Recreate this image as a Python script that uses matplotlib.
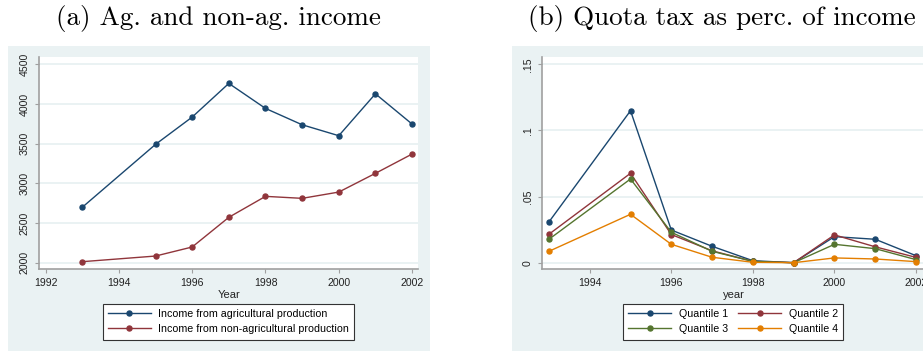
import numpy as np
import matplotlib
matplotlib.use('Agg')
import matplotlib.pyplot as plt
from matplotlib.patches import Rectangle

# Average income by source (panel a)
years_a = [1993, 1995, 1996, 1997, 1998, 1999, 2000, 2001, 2002]
ag_income = [2698, 3491, 3835, 4259, 3944, 3738, 3600, 4128, 3747]
nonag_income = [2013, 2084, 2198, 2572, 2836, 2811, 2890, 3126, 3369]

# Quota tax as a share of income by quantile (panel b)
years_b = [1993, 1995, 1996, 1997, 1998, 1999, 2000, 2001, 2002]
q1 = [0.0308, 0.1149, 0.0247, 0.0124, 0.0015, 0.0000, 0.0197, 0.0177, 0.0053]
q2 = [0.0215, 0.0676, 0.0213, 0.0090, 0.0010, 0.0000, 0.0210, 0.0120, 0.0040]
q3 = [0.0177, 0.0633, 0.0230, 0.0086, 0.0010, 0.0000, 0.0139, 0.0106, 0.0023]
q4 = [0.0086, 0.0366, 0.0139, 0.0041, 0.0003, 0.0000, 0.0036, 0.0028, 0.0008]

ticks_a_x = [1992, 1994, 1996, 1998, 2000, 2002]
ticks_a_y = [2000, 2500, 3000, 3500, 4000, 4500]
ticks_b_x = [1994, 1996, 1998, 2000, 2002]
ticks_b_y = [0, 0.05, 0.10, 0.15]
ticks_b_ylab = ['0', '.05', '.1', '.15']

# stata s2color palette
navy = '#1a476f'
maroon = '#90353b'
green = '#55752f'
orange = '#e37e00'
bg = '#eaf2f3'

W, H = 923, 351
fig = plt.figure(figsize=(W / 100, H / 100), dpi=100)
plt.rcParams['font.family'] = 'Liberation Sans'


def px(x0, y0, x1, y1):
    # pixel box -> figure fraction [left, bottom, width, height]
    return [x0 / W, 1 - y1 / H, (x1 - x0) / W, (y1 - y0) / H]


# graph regions behind the plot areas
for x0, x1 in [(8, 430), (512, 940)]:
    b = px(x0, 46, x1, 351)
    fig.patches.append(Rectangle((b[0], b[1]), b[2], b[3], transform=fig.transFigure,
                                 facecolor=bg, edgecolor='none', zorder=-5))


def style(ax):
    ax.set_facecolor('white')
    for s in ['top', 'right']:
        ax.spines[s].set_visible(False)
    for s in ['left', 'bottom']:
        ax.spines[s].set_color('#a0a0a0')
        ax.spines[s].set_linewidth(1.2)
    ax.tick_params(axis='both', direction='out', length=3, width=0.8, color='#a0a0a0',
                   labelsize=7.6, labelcolor='#222222', pad=3.5)
    ax.grid(axis='y', color=bg, linewidth=1.4)
    ax.set_axisbelow(True)
    for lab in ax.get_yticklabels():
        lab.set_rotation(90)
        lab.set_va('center')


def box(leg):
    leg.get_frame().set_edgecolor('#333333')
    leg.get_frame().set_linewidth(0.8)


mk = dict(marker='o', markersize=3.6, linewidth=1.0)
legkw = dict(loc='upper center', bbox_transform=fig.transFigure, fontsize=7.7,
             handlelength=4.0, handletextpad=0.7, labelspacing=0.5, borderpad=0.5,
             borderaxespad=0, fancybox=False, framealpha=1)

# panel a
ax1 = fig.add_axes(px(39, 57.3, 418.3, 269.3))
ax1.plot(years_a, ag_income, color=navy, label='Income from agricultural production', **mk)
ax1.plot(years_a, nonag_income, color=maroon, label='Income from non-agricultural production', **mk)
ax1.set_xlim(1991.82, 2002.17)
ax1.set_ylim(1917, 4588)
ax1.set_xticks(ticks_a_x)
ax1.set_yticks(ticks_a_y)
ax1.set_xlabel('Year', fontsize=8, labelpad=1, color='#222222')
style(ax1)
box(ax1.legend(bbox_to_anchor=(228.5 / W, 1 - 303.5 / H), ncol=1, **legkw))

# panel b
ax2 = fig.add_axes(px(542, 57.3, 925, 269.3))
l1, = ax2.plot(years_b, q1, color=navy, label='Quantile 1', **mk)
l2, = ax2.plot(years_b, q2, color=maroon, label='Quantile 2', **mk)
l3, = ax2.plot(years_b, q3, color=green, label='Quantile 3', **mk)
l4, = ax2.plot(years_b, q4, color=orange, label='Quantile 4', **mk)
ax2.set_xlim(1992.83, 2002.22)
ax2.set_ylim(-0.005, 0.1553)
ax2.set_xticks(ticks_b_x)
ax2.set_yticks(ticks_b_y)
ax2.set_yticklabels(ticks_b_ylab)
ax2.set_xlabel('year', fontsize=8, labelpad=1, color='#222222')
style(ax2)
# legend filled row by row: 1 2 / 3 4
box(ax2.legend([l1, l3, l2, l4], ['Quantile 1', 'Quantile 3', 'Quantile 2', 'Quantile 4'],
               bbox_to_anchor=(733 / W, 1 - 303.5 / H), ncol=2, columnspacing=1.0, **legkw))

# subfigure captions
fig.text(218.5 / W, 1 - 19 / H, '(a) Ag. and non-ag. income', family='cmr10',
         fontsize=19.5, ha='center', va='center')
fig.text(722 / W, 1 - 19 / H, '(b) Quota tax as perc. of income', family='cmr10',
         fontsize=19.5, ha='center', va='center')

fig.savefig('out.png', dpi=100)
